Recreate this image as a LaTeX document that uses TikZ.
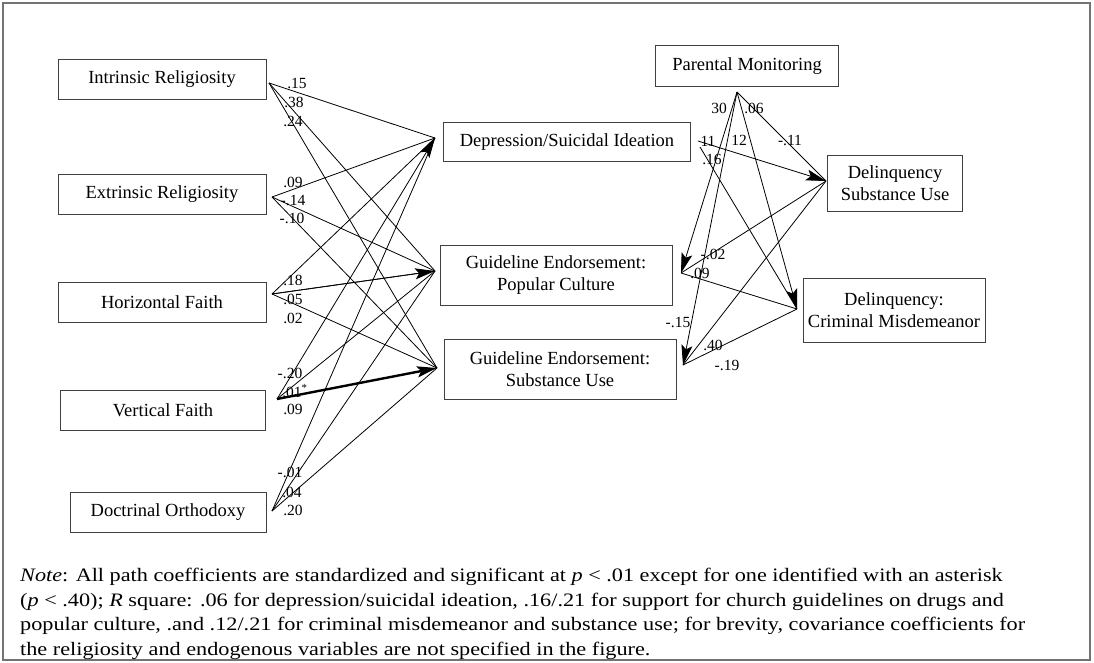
\documentclass[tikz,border=0pt]{standalone}
\usepackage{fontspec}
\setmainfont{Liberation Serif}
\newfontfamily\notefont{Liberation Serif}[FakeStretch=1.17]
\usetikzlibrary{arrows.meta}

\tikzset{
  varbox/.style={draw=black!75, line width=0.9pt, inner sep=0pt, align=center,
    minimum height=40pt, font=\fontsize{18.5}{21.5}\selectfont},
  coef/.style={inner sep=0pt, font=\fontsize{15.5}{17}\selectfont},
  link/.style={line width=0.8pt},
  tip/.style={line width=0.8pt, -{Stealth[length=20pt,width=11pt,inset=4pt]}},
}

\begin{document}
\begin{tikzpicture}[x=1pt,y=-1pt]
  \useasboundingbox (0,0) rectangle (1094,663);

  % --- frame ---
  \draw[black!55, line width=1.4pt] (3,3) rectangle (1090,660);

  % --- religiosity variables ---
  \node[varbox, minimum width=208pt] (intr) at (162,79) {Intrinsic Religiosity};
  \node[varbox, minimum width=208pt] (extr) at (162,194) {Extrinsic Religiosity};
  \node[varbox, minimum width=208pt] (horz) at (162,302) {Horizontal Faith};
  \node[varbox, minimum width=205pt] (vert) at (163,410) {Vertical Faith};
  \node[varbox, minimum width=196pt] (doct) at (168,512) {Doctrinal Orthodoxy};

  % --- endogenous variables ---
  \node[varbox, minimum width=247pt, minimum height=39pt] (dep) at (567,142) {Depression/Suicidal Ideation};
  \node[varbox, minimum width=232pt, minimum height=60pt] (pop) at (556,275) {Guideline Endorsement:\\Popular Culture};
  \node[varbox, minimum width=232pt, minimum height=60pt] (sub) at (560,369) {Guideline Endorsement:\\Substance Use};
  \node[varbox, minimum width=183pt, minimum height=41pt] (pm) at (747,66) {Parental Monitoring};
  \node[varbox, minimum width=135pt, minimum height=56pt] (dsu) at (895,183) {Delinquency\\Substance Use};
  \node[varbox, minimum width=182pt, minimum height=64pt] (dcm) at (894,310) {Delinquency:\\Criminal Misdemeanor};

  % 線の集まる点
  \coordinate (sI) at (269,83);
  \coordinate (sE) at (272,197);
  \coordinate (sH) at (272,294);
  \coordinate (sV) at (277,399);
  \coordinate (sD) at (272,511);
  \coordinate (tDep) at (435,138);
  \coordinate (tPop) at (435,271);
  \coordinate (tSub) at (437,368);
  \coordinate (sPM) at (737,92);
  \coordinate (sDepA) at (698,141);
  \coordinate (sDepB) at (700,147);
  \coordinate (tPopR) at (681,273);
  \coordinate (tSubR) at (683,365);
  \coordinate (tDsu) at (826,181);
  \coordinate (tDcm) at (797,309);

  % --- paths, religiosity -> endorsement/depression ---
  \foreach \s in {sI,sE,sH,sD}
    \foreach \t in {tDep,tPop,tSub}
      \draw[link] (\s) -- (\t);
  \draw[link] (sV) -- (tPop);
  \draw[tip] (sV) -- (tDep);
  \draw[tip] (sH) -- (tPop);
  \draw[line width=2.4pt, -{Stealth[length=20pt,width=11pt,inset=4pt]}] (sV) -- (tSub);

  % --- paths on the right ---
  \draw[tip] (sPM) -- (tPopR);
  \draw[tip] (sPM) -- (tSubR);
  \draw[tip] (sPM) -- (tDcm);
  \draw[link] (sPM) -- (tDsu);
  \draw[tip] (sDepA) -- (tDsu);
  \draw[link] (sDepB) -- (tDcm);
  \draw[link] (tPopR) -- (tDsu);
  \draw[link] (tPopR) -- (tDcm);
  \draw[link] (tSubR) -- (tDsu);
  \draw[link] (tSubR) -- (tDcm);

  % --- coefficients ---
  \node[coef] (cI1) at (297,83) {.15};
  \node[coef] (cI2) at (294,102) {.38};
  \node[coef] (cI3) at (293,121) {.24};
  \node[coef] (cE1) at (293,182) {.09};
  \node[coef] (cE2) at (293,200) {-.14};
  \node[coef] (cE3) at (292,218) {-.10};
  \node[coef] (cH1) at (293,280) {.18};
  \node[coef] (cH2) at (293,299) {.05};
  \node[coef] (cH3) at (293,318) {.02};
  \node[coef] (cV1) at (290,373) {-.20};
  \node[coef] (cV2) at (295,391) {.01\textsuperscript{*}};
  \node[coef] (cV3) at (293,409) {.09};
  \node[coef] (cD1) at (290,472) {-.01};
  \node[coef] (cD2) at (292,492) {.04};
  \node[coef] (cD3) at (293,510) {.20};

  \node[coef] (cP1) at (719,108) {30};
  \node[coef] (cP2) at (754,108) {.06};
  \node[coef] (cP3) at (739,140) {12};
  \node[coef] (cP4) at (790,140) {-.11};
  \node[coef] (cQ1) at (708,141) {11};
  \node[coef] (cQ2) at (712,159) {.16};
  \node[coef] (cR1) at (713,254) {-.02};
  \node[coef] (cR2) at (700,273) {.09};
  \node[coef] (cS1) at (678,322) {-.15};
  \node[coef] (cS2) at (713,345) {.40};
  \node[coef] (cS3) at (727,365) {-.19};

  % --- note ---
  \node[anchor=north west, inner sep=0pt, align=left,
        font=\notefont\fontsize{19}{24.7}\selectfont] (note) at (20,568)
    {\textit{Note}: All path coefficients are standardized and significant at \textit{p} < .01 except for one identified with an asterisk\\
     (\textit{p} < .40); \textit{R} square: .06 for depression/suicidal ideation, .16/.21 for support for church guidelines on drugs and\\
     popular culture, .and .12/.21 for criminal misdemeanor and substance use; for brevity, covariance coefficients for\\
     the religiosity and endogenous variables are not specified in the figure.};
\end{tikzpicture}
\end{document}
